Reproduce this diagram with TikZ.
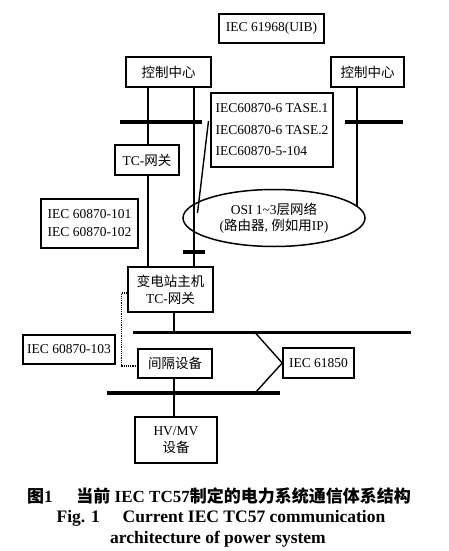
\documentclass[tikz,border=0pt]{standalone}
\usepackage{fontspec}
\setmainfont{Liberation Serif}
\newfontfamily\cjk{Noto Sans CJK SC}
\newcommand\zh[1]{{\cjk #1}}
\usetikzlibrary{shapes.geometric,calc}
\begin{document}
\begin{tikzpicture}[x=1pt,y=-1pt,
  box/.style={draw,line width=1.5pt,inner sep=0pt,align=center,font=\fontsize{13.5}{17}\selectfont},
  wire/.style={line width=1.4pt},
  bus/.style={line width=3.2pt},
  captext/.style={font=\bfseries\fontsize{17.5}{20}\selectfont,anchor=base,inner sep=0pt}]
\fill[white] (0,0) rectangle (449,551);
\useasboundingbox (0,0) rectangle (449,551);
% nodes
\node[box,minimum width=105,minimum height=29] (uib) at (271.5,28.5) {IEC 61968(UIB)};
\node[box,minimum width=85,minimum height=30] (cc1) at (168.5,72) {\zh{控制中心}};
\node[box,minimum width=73,minimum height=30] (cc2) at (367.5,72) {\zh{控制中心}};
\node[box,minimum width=122,minimum height=74,align=left,font=\fontsize{13.5}{21.5}\selectfont] (tase) at (272,130) {IEC60870-6 TASE.1\\IEC60870-6 TASE.2\\IEC60870-5-104};
\node[box,minimum width=64,minimum height=30] (tcgw) at (147,160) {TC-\zh{网关}};
\node[box,minimum width=97,minimum height=49,font=\fontsize{13.5}{18}\selectfont] (i101) at (89.5,223.5) {IEC 60870-101\\IEC 60870-102};
\node[draw,ellipse,line width=1.5pt,minimum width=182,minimum height=57,inner sep=0pt,align=center,font=\fontsize{13.5}{16.5}\selectfont] (osi) at (274,218) {OSI 1\textasciitilde3\zh{层网络}\\(\zh{路由器}, \zh{例如用}IP)};
\node[box,minimum width=85,minimum height=45] (sub) at (170.5,289.5) {\zh{变电站主机}\\TC-\zh{网关}};
\node[box,minimum width=92,minimum height=29] (i103) at (69,349.5) {IEC 60870-103};
\node[box,minimum width=74,minimum height=29] (bay) at (175,363.5) {\zh{间隔设备}};
\node[box,minimum width=71,minimum height=30] (i61850) at (318.5,363) {IEC 61850};
\node[box,minimum width=82,minimum height=46] (hv) at (176,440) {HV/MV\\\zh{设备}};
% coordinates
\coordinate (xa) at (148,0);
\coordinate (xb) at (194,0);
\coordinate (xc) at (357,0);
\coordinate (xd) at (174,0);
\coordinate (xe) at (255,0);
\coordinate (t1l) at (120,122); \coordinate (t1r) at (202,122);
\coordinate (t2l) at (345,122); \coordinate (t2r) at (403,122);
\coordinate (t3l) at (183,252); \coordinate (t3r) at (205,252);
\coordinate (b1l) at (133,332.5); \coordinate (b1r) at (411,332.5);
\coordinate (b2l) at (107,393); \coordinate (b2r) at (280,393);
\coordinate (ositop) at (357,206.5);
\coordinate (sl1) at (208.5,121);
\coordinate (sl2) at (197.5,213);
% buses and bars
\draw[bus] (t1l) -- (t1r);
\draw[bus] (t2l) -- (t2r);
\draw[bus] (t3l) -- (t3r);
\draw[bus] (b1l) -- (b1r);
\draw[bus] (b2l) -- (b2r);
% wires
\draw[wire] (cc1.south -| xa) -- (tcgw.north -| xa);
\draw[wire] (tcgw.south -| xa) -- (sub.north -| xa);
\draw[wire] (cc1.south -| xb) -- (sub.north -| xb);
\draw[wire] (cc2.south -| xc) -- (ositop);
\draw[wire] (sl1) -- (sl2);
\draw[wire] (sub.south -| xd) -- (b1l -| xd);
\draw[wire] (bay.south -| xd) -- (hv.north -| xd);
\draw[wire] (b1l -| xe) -- (i61850.west) -- (b2l -| xe);
\draw[line width=1.2pt,densely dotted] ($(sub.west)+(0,3.5)$) -| ($(bay.west)+(-16,2.5)$) -- ($(bay.west)+(0,2.5)$);
% caption
\node[captext,font=\bfseries\fontsize{17}{20}\selectfont] (cap1) at (219,502) {\zh{图}1\hspace{1.4em}\zh{当前} IEC TC57\zh{制定的电力系统通信体系结构}};
\node[captext] (cap2) at (221,522) {Fig. 1\hspace{1.3em}Current IEC TC57 communication};
\node[captext] (cap3) at (218,543) {architecture of power system};
\end{tikzpicture}
\end{document}
